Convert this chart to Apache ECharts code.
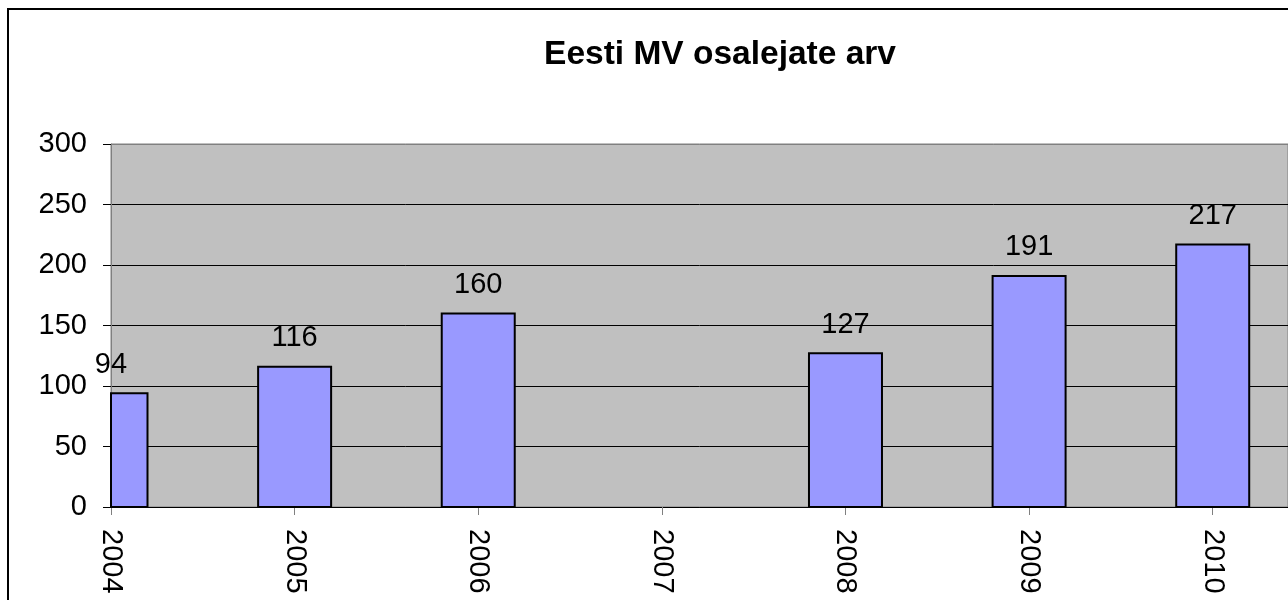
<!DOCTYPE html>
<html>
<head>
<meta charset="utf-8">
<script src="https://cdn.jsdelivr.net/npm/echarts@6/dist/echarts.min.js"></script>
<style>
html,body{margin:0;padding:0;background:#fff;}
#chart{width:1288px;height:600px;}
</style>
</head>
<body>
<div id="chart"></div>
<script>
const titleText = 'Eesti MV osalejate arv';
const years = [2004, 2005, 2006, 2007, 2008, 2009, 2010];
const participants = [94, 116, 160, null, 127, 191, 217];
const yTicks = [0, 50, 100, 150, 200, 250, 300];

const seriesData = years.map((y, i) => [y, participants[i]]).filter(d => d[1] !== null);

const chart = echarts.init(document.getElementById('chart'), null, {renderer: 'canvas'});
const FONT = 'Liberation Sans, Arial, sans-serif';
const BAR_W = 73;

function renderBar(params, api) {
  const x = api.value(0), v = api.value(1);
  const top = api.coord([x, v]);
  const base = api.coord([x, 0]);
  const cs = params.coordSys;
  const rect = echarts.graphic.clipRectByRect(
    {x: top[0] - BAR_W / 2, y: top[1], width: BAR_W, height: base[1] - top[1]},
    {x: cs.x, y: cs.y, width: cs.width, height: cs.height}
  );
  return {
    type: 'group',
    children: [
      {type: 'rect', shape: rect, style: {fill: '#9999FF', stroke: '#000', lineWidth: 2}},
      {type: 'text', x: top[0], y: top[1] - 14,
       style: {text: String(v), fill: '#000', font: '29px ' + FONT, textAlign: 'center', textVerticalAlign: 'bottom'}}
    ]
  };
}

chart.setOption({
  animation: false,
  backgroundColor: '#ffffff',
  title: {
    text: titleText,
    left: 715,
    textAlign: 'center',
    top: 33,
    textStyle: {fontFamily: FONT, fontSize: 33.5, fontWeight: 'bold', color: '#000'}
  },
  graphic: [{
    type: 'rect',
    shape: {x: 8, y: 9, width: 1400, height: 800},
    style: {fill: null, stroke: '#000', lineWidth: 2},
    silent: true,
    z: 100
  }],
  grid: {
    left: 111, top: 144, bottom: 93, right: 0,
    show: true,
    backgroundColor: '#C0C0C0',
    borderColor: '#808080',
    borderWidth: 1
  },
  xAxis: {
    type: 'value',
    min: 2004,
    max: 2010.41,
    interval: 1,
    axisLine: {show: true, onZero: false, lineStyle: {color: '#000', width: 1}},
    axisTick: {show: true, length: 8, lineStyle: {color: '#808080'}},
    splitLine: {show: false},
    axisLabel: {
      rotate: -90,
      margin: 22,
      fontFamily: FONT,
      fontSize: 29,
      color: '#000',
      showMaxLabel: false,
      formatter: v => (Number.isInteger(v) && years.includes(v)) ? String(v) : ''
    }
  },
  yAxis: {
    type: 'value',
    min: yTicks[0],
    max: yTicks[yTicks.length - 1],
    interval: 50,
    axisLine: {show: true, lineStyle: {color: '#808080', width: 1}},
    axisTick: {show: true, length: 8, lineStyle: {color: '#000'}},
    splitLine: {show: true, lineStyle: {color: ['#000', '#000', '#000', '#000', '#000', '#000', '#808080'], width: 1}},
    axisLabel: {margin: 24, fontFamily: FONT, fontSize: 29, color: '#000'}
  },
  series: [{
    type: 'custom',
    data: seriesData,
    encode: {x: 0, y: 1},
    clip: false,
    renderItem: renderBar
  }]
});
</script>
</body>
</html>
